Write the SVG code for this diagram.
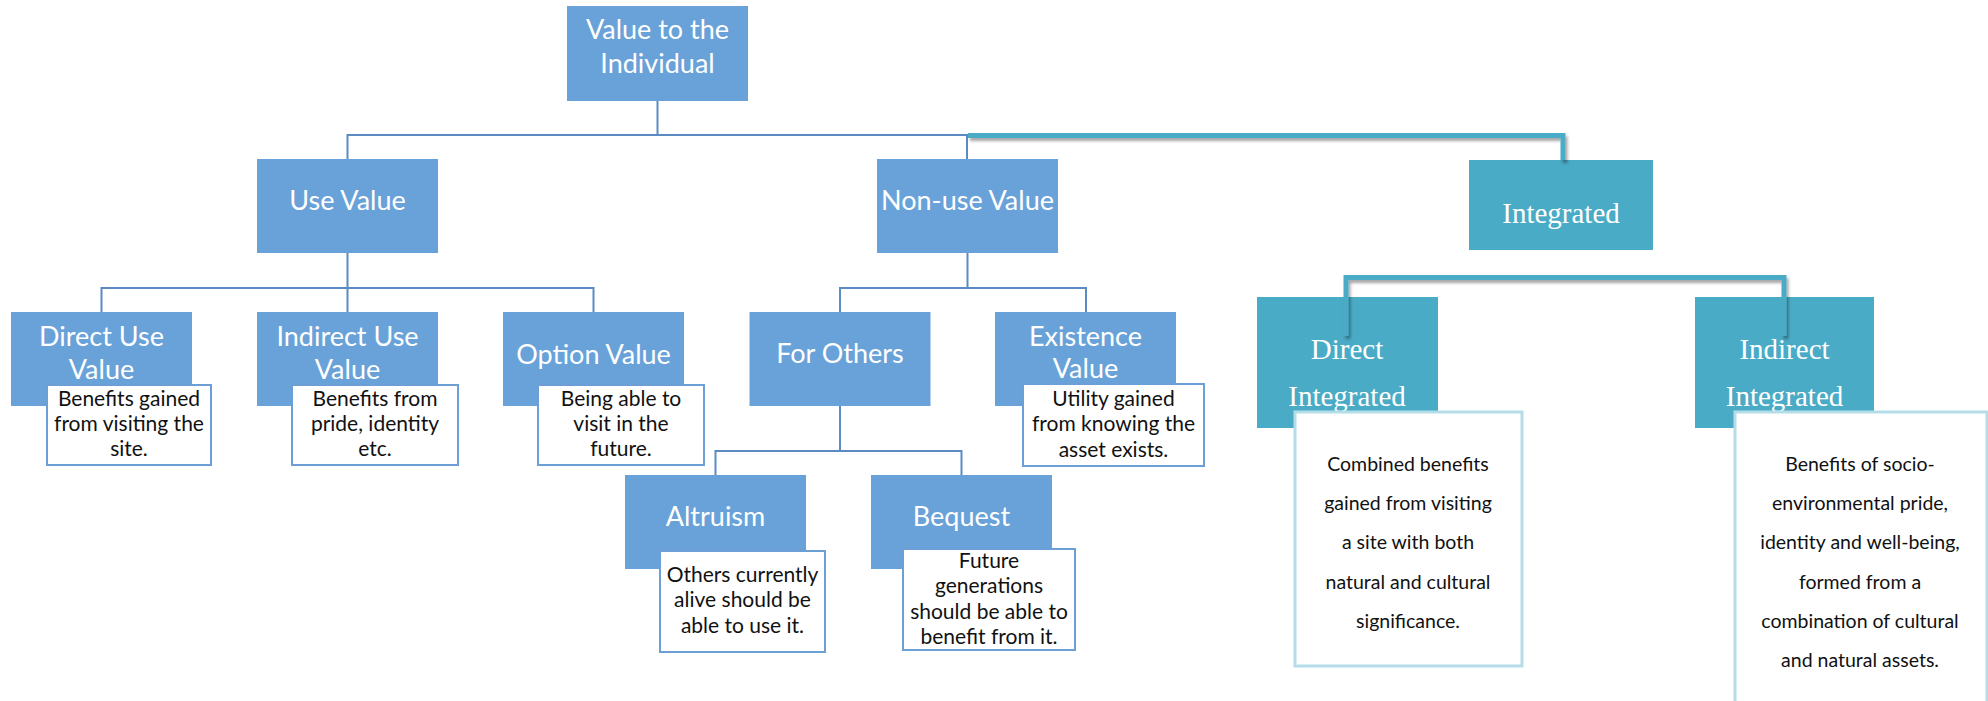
<svg xmlns="http://www.w3.org/2000/svg" width="1988" height="701" viewBox="0 0 1988 701">
  <defs>
    <filter id="lineShadow" x="-5%" y="-50%" width="110%" height="200%">
      <feDropShadow dx="2" dy="3" stdDeviation="1.6" flood-color="#000" flood-opacity="0.35"/>
    </filter>
    <style>
      .box { fill: #69a2d9; }
      .tbox { fill: #4aabc6; }
      .note { fill: #ffffff; stroke: #6b9fd6; stroke-width: 2; }
      .tnote { fill: #ffffff; stroke: #b5dde8; stroke-width: 3; }
      .title { font-family: Lato, "Liberation Sans", sans-serif; font-size: 27px; fill: #ffffff; text-anchor: middle; }
      .ttitle { font-family: "Liberation Serif", "DejaVu Serif", serif; font-size: 29px; fill: #ffffff; text-anchor: middle; }
      .desc { font-family: Lato, "Liberation Sans", sans-serif; font-size: 21px; fill: #111111; text-anchor: middle; }
      .tdesc { font-family: Lato, "Liberation Sans", sans-serif; font-size: 19.5px; fill: #111111; text-anchor: middle; }
      .link { fill: none; stroke: #5b8bc2; stroke-width: 2; }
      .tlink { fill: none; stroke: #4aabc6; stroke-width: 5; filter: url(#lineShadow); }
    </style>
  </defs>
  <rect width="1988" height="701" fill="#ffffff"/>

  <!-- root -->
  <g id="node-value-individual">
    <rect class="box" x="567" y="6" width="181" height="95"/>
    <text class="title" x="657.5" y="39">Value to the</text>
    <text class="title" x="657.5" y="73">Individual</text>
  </g>

  <!-- second level -->
  <g id="node-use-value">
    <rect class="box" x="257" y="159" width="181" height="94"/>
    <text class="title" x="347.5" y="210">Use Value</text>
  </g>
  <g id="node-non-use-value">
    <rect class="box" x="877" y="159" width="181" height="94"/>
    <text class="title" x="967.5" y="210">Non-use Value</text>
  </g>
  <g id="node-integrated">
    <rect class="tbox" x="1469" y="160" width="184" height="90"/>
    <text class="ttitle" x="1561" y="223">Integrated</text>
  </g>

  <!-- use value branch -->
  <g id="node-direct-use">
    <rect class="box" x="11" y="312" width="181" height="94"/>
    <text class="title" x="101.5" y="346">Direct Use</text>
    <text class="title" x="101.5" y="379">Value</text>
    <rect class="note" x="47" y="385" width="164" height="80"/>
    <text class="desc" x="129" y="406">Benefits gained</text>
    <text class="desc" x="129" y="431">from visiting the</text>
    <text class="desc" x="129" y="456">site.</text>
  </g>
  <g id="node-indirect-use">
    <rect class="box" x="257" y="312" width="181" height="94"/>
    <text class="title" x="347.5" y="346">Indirect Use</text>
    <text class="title" x="347.5" y="379">Value</text>
    <rect class="note" x="292" y="385" width="166" height="80"/>
    <text class="desc" x="375" y="406">Benefits from</text>
    <text class="desc" x="375" y="431">pride, identity</text>
    <text class="desc" x="375" y="456">etc.</text>
  </g>
  <g id="node-option">
    <rect class="box" x="503" y="312" width="181" height="94"/>
    <text class="title" x="593.5" y="364">Option Value</text>
    <rect class="note" x="538" y="385" width="166" height="80"/>
    <text class="desc" x="621" y="406">Being able to</text>
    <text class="desc" x="621" y="431">visit in the</text>
    <text class="desc" x="621" y="456">future.</text>
  </g>

  <!-- non-use branch -->
  <g id="node-for-others">
    <rect class="box" x="749.5" y="312" width="181" height="94"/>
    <text class="title" x="840" y="363">For Others</text>
  </g>
  <g id="node-existence">
    <rect class="box" x="995" y="312" width="181" height="94"/>
    <text class="title" x="1085.5" y="346">Existence</text>
    <text class="title" x="1085.5" y="378">Value</text>
    <rect class="note" x="1023" y="384" width="181" height="82"/>
    <text class="desc" x="1113.5" y="406">Utility gained</text>
    <text class="desc" x="1113.5" y="431">from knowing the</text>
    <text class="desc" x="1113.5" y="457">asset exists.</text>
  </g>
  <g id="node-altruism">
    <rect class="box" x="625" y="475" width="181" height="94"/>
    <text class="title" x="715.5" y="526">Altruism</text>
    <rect class="note" x="660" y="551" width="165" height="101"/>
    <text class="desc" x="742.5" y="582">Others currently</text>
    <text class="desc" x="742.5" y="607">alive should be</text>
    <text class="desc" x="742.5" y="633">able to use it.</text>
  </g>
  <g id="node-bequest">
    <rect class="box" x="871" y="475" width="181" height="94"/>
    <text class="title" x="961.5" y="526">Bequest</text>
    <rect class="note" x="903" y="549" width="172" height="101"/>
    <text class="desc" x="989" y="568">Future</text>
    <text class="desc" x="989" y="593">generations</text>
    <text class="desc" x="989" y="619">should be able to</text>
    <text class="desc" x="989" y="644">benefit from it.</text>
  </g>

  <!-- integrated branch -->
  <g id="node-direct-integrated">
    <rect class="tbox" x="1257" y="297" width="181" height="131"/>
    <text class="ttitle" x="1347" y="359">Direct</text>
    <text class="ttitle" x="1347" y="406">Integrated</text>
    <rect class="tnote" x="1295" y="412" width="227" height="254"/>
    <text class="tdesc" x="1408" y="471">Combined benefits</text>
    <text class="tdesc" x="1408" y="510">gained from visiting</text>
    <text class="tdesc" x="1408" y="549">a site with both</text>
    <text class="tdesc" x="1408" y="589">natural and cultural</text>
    <text class="tdesc" x="1408" y="628">significance.</text>
  </g>
  <g id="node-indirect-integrated">
    <rect class="tbox" x="1695" y="297" width="179" height="131"/>
    <text class="ttitle" x="1784.5" y="359">Indirect</text>
    <text class="ttitle" x="1784.5" y="406">Integrated</text>
    <rect class="tnote" x="1735" y="412" width="252" height="300"/>
    <text class="tdesc" x="1860" y="471">Benefits of socio-</text>
    <text class="tdesc" x="1860" y="510">environmental pride,</text>
    <text class="tdesc" x="1860" y="549">identity and well-being,</text>
    <text class="tdesc" x="1860" y="589">formed from a</text>
    <text class="tdesc" x="1860" y="628">combination of cultural</text>
    <text class="tdesc" x="1860" y="667">and natural assets.</text>
  </g>

  <!-- connectors -->
  <g id="connectors">
    <path class="link" d="M657.5 101 V135 M347.5 159 V135 H967 V159"/>
    <path class="link" d="M347.5 253 V288 M101.5 312 V288 H593.5 V312 M347.5 288 V312"/>
    <path class="link" d="M967.5 253 V288 M840 312 V288 H1086 V312"/>
    <path class="link" d="M840 406 V451 M715.5 475 V451 H961.5 V475"/>
    <path class="tlink" d="M968 135.5 H1563 V160"/>
    <path class="tlink" d="M1563 250 V277.5"/>
    <path class="tlink" d="M1346 336 V277.5 H1784 V336"/>
  </g>
</svg>
